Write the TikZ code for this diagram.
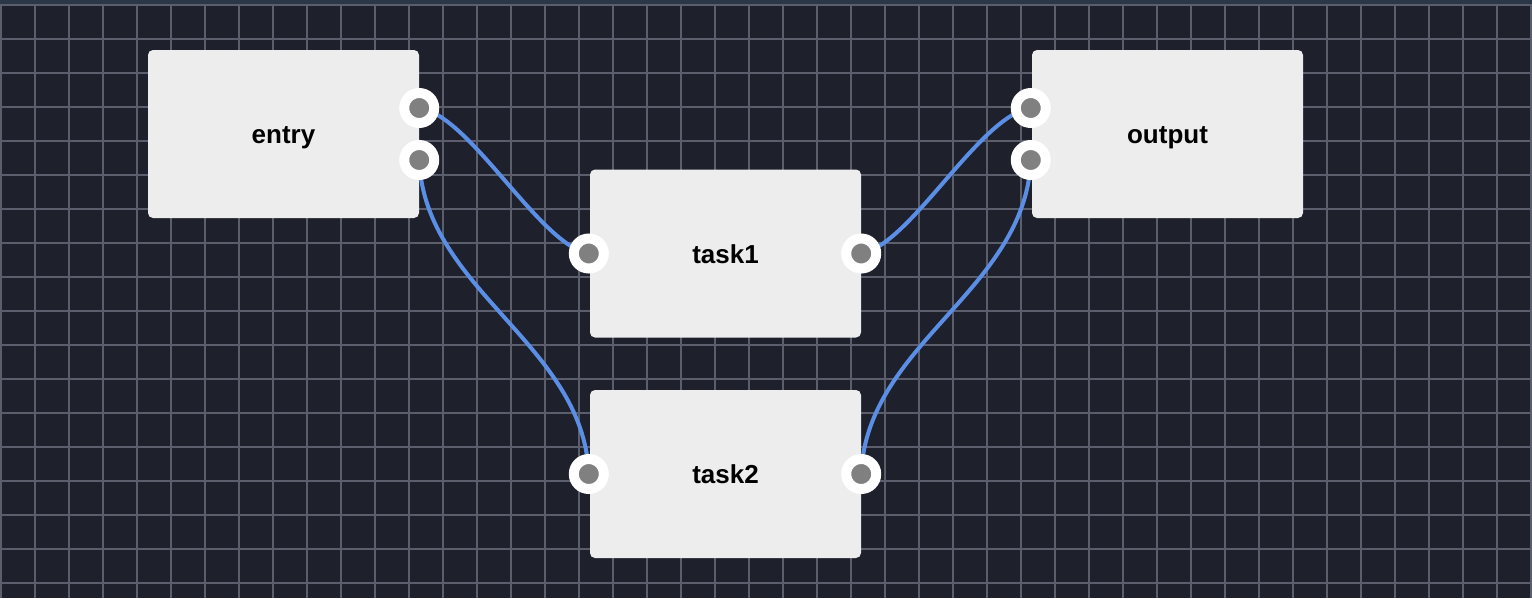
\documentclass[tikz,border=0pt]{standalone}
\usepackage{fontspec}
\setmainfont{Liberation Sans}
\usetikzlibrary{positioning}
\definecolor{canvas}{HTML}{1E202C}
\definecolor{topbar}{HTML}{2B3646}
\definecolor{gridcol}{HTML}{5B5E6C}
\definecolor{boxfill}{HTML}{EDEDED}
\definecolor{wire}{HTML}{5B8FE6}
\definecolor{portcol}{HTML}{808080}
\tikzset{
  box/.style={fill=boxfill,rounded corners=5pt,minimum width=271pt,minimum height=168pt,inner sep=0pt,text height=24pt,text depth=5pt,font=\bfseries\fontsize{26}{30}\selectfont},
  port/.style={circle,fill=portcol,draw=white,line width=10pt,minimum size=30pt,inner sep=0pt},
  link/.style={wire,line width=4pt}
}
\begin{document}
\begin{tikzpicture}[x=1pt,y=-1pt]
\useasboundingbox (0,0) rectangle (1532,598);
\fill[canvas] (0,0) rectangle (1532,598);
\foreach \i in {0,...,45} \draw[gridcol,line width=1.5pt] (1+34*\i,0) -- (1+34*\i,598);
\foreach \j in {0,...,17} \draw[gridcol,line width=1.5pt] (0,5+34*\j) -- (1532,5+34*\j);
\fill[topbar] (0,0) rectangle (1532,4);
\node[box] (entry) at (283.5,134) {entry};
\node[box] (task1) at (725.5,253.5) {task1};
\node[box] (output) at (1167.5,134) {output};
\node[box] (task2) at (725.5,474) {task2};
\coordinate (e1) at ([yshift=26pt]entry.east);
\coordinate (e2) at ([yshift=-26pt]entry.east);
\coordinate (o1) at ([yshift=26pt,xshift=-1pt]output.west);
\coordinate (o2) at ([yshift=-26pt,xshift=-1pt]output.west);
\coordinate (t1in) at ([xshift=-1pt]task1.west);
\coordinate (t1out) at (task1.east);
\coordinate (t2in) at ([xshift=-1pt]task2.west);
\coordinate (t2out) at (task2.east);
% wires under the ports
\draw[link] (e1) .. controls +(51,7) and +(-49,-8) .. (t1in);
\draw[link] (e2) .. controls +(5,130) and +(-5,-130) .. (t2in);
\draw[link] (t1out) .. controls +(49,-8) and +(-51,7) .. (o1);
\draw[link] (t2out) .. controls +(5,-130) and +(-5,130) .. (o2);
\foreach \p in {e1,e2,o1,o2,t1in,t1out,t2in,t2out} \node[port] (\p-dot) at (\p) {};
\end{tikzpicture}
\end{document}
